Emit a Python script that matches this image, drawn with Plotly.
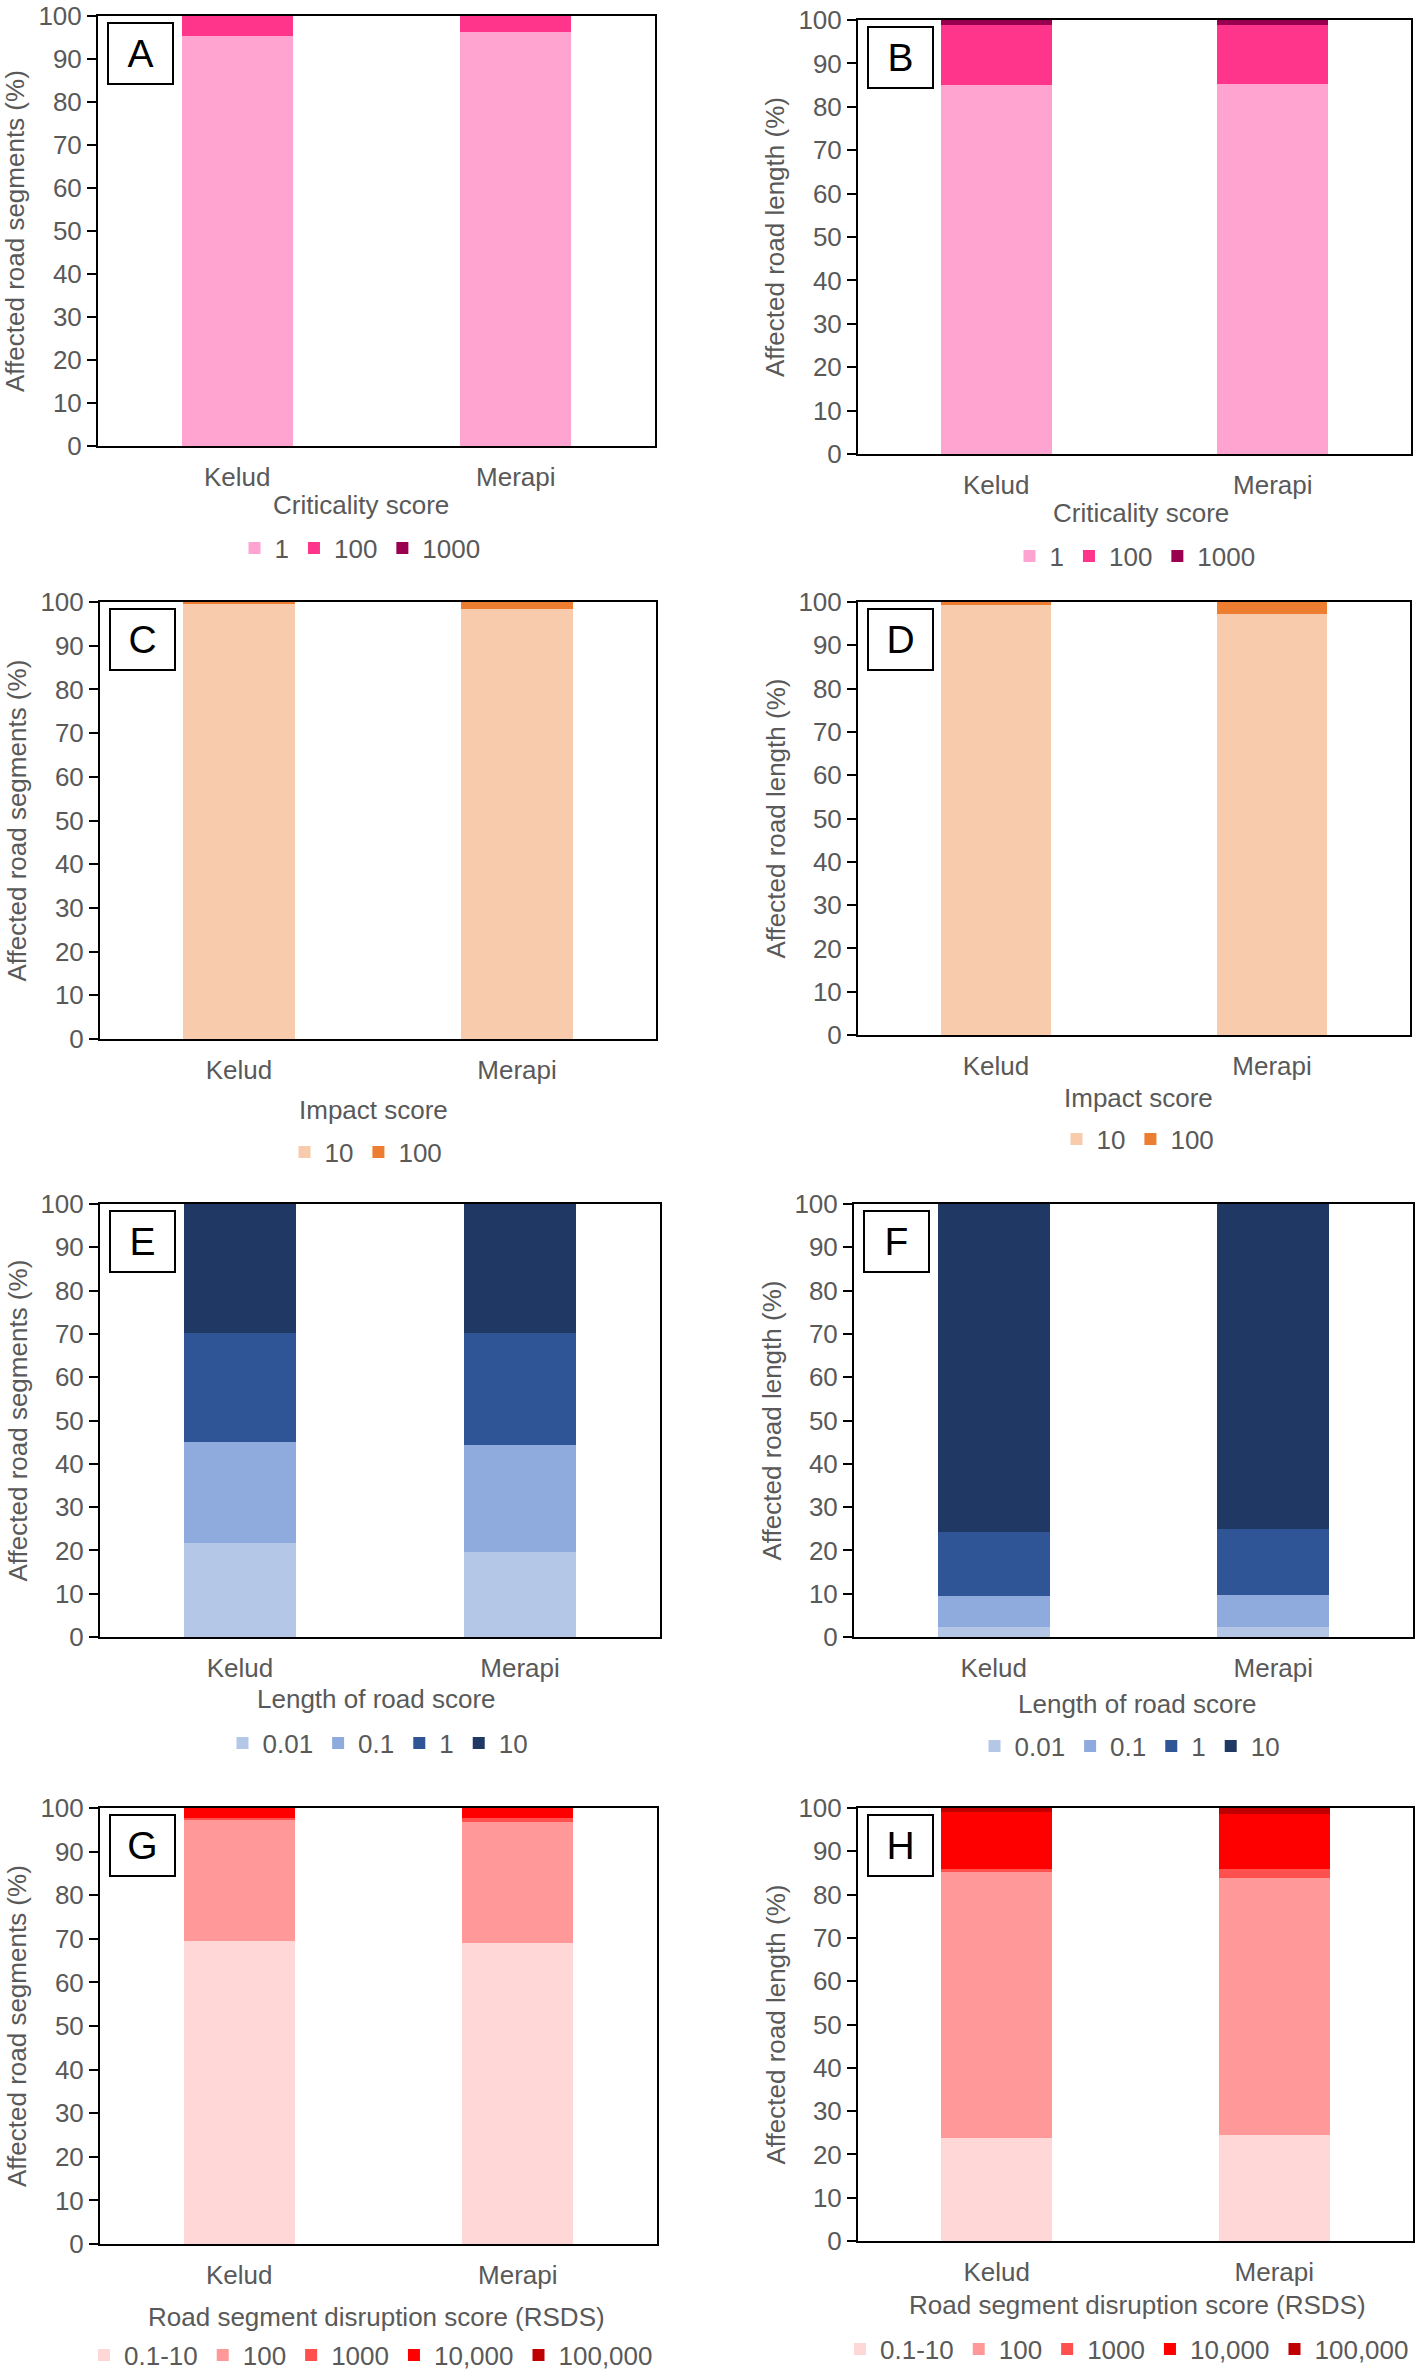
import plotly.graph_objects as go

# ---------------- data ----------------
volcanoes = ["Kelud", "Merapi"]

crit_labels = ["1", "100", "1000"]
crit_colors = ["#FFA3D1", "#FF358C", "#990050"]
A_values = [[95.4, 96.2], [4.6, 3.8], [0.0, 0.0]]      # road segments
B_values = [[85.1, 85.2], [13.8, 13.7], [1.1, 1.1]]    # road length

impact_labels = ["10", "100"]
impact_colors = ["#F8CBAD", "#ED7D31"]
C_values = [[99.7, 98.4], [0.3, 1.6]]
D_values = [[99.4, 97.3], [0.6, 2.7]]

length_labels = ["0.01", "0.1", "1", "10"]
length_colors = ["#B4C7E7", "#8FAADC", "#2F5597", "#203864"]
E_values = [[21.8, 19.6], [23.2, 24.8], [25.2, 25.8], [29.8, 29.8]]
F_values = [[2.4, 2.4], [7.1, 7.4], [14.7, 15.1], [75.8, 75.1]]

rsds_labels = ["0.1-10", "100", "1000", "10,000", "100,000"]
rsds_colors = ["#FFD7D7", "#FF9999", "#FF5050", "#FF0000", "#C00000"]
G_values = [[69.4, 69.1], [28.0, 27.7], [0.3, 0.9], [2.3, 2.3], [0.0, 0.0]]
H_values = [[23.9, 24.4], [61.4, 59.4], [0.5, 2.1], [13.2, 12.7], [1.0, 1.4]]

y_ticks = list(range(0, 101, 10))
ytitle_seg = "Affected road segments (%)"
ytitle_len = "Affected road length (%)"

# ---------------- layout (pixel boxes) ----------------
W, H = 1416, 2372
# letter, labels, colors, values, y title, x title,
# plot box (left, top, right, bottom), x-title centre (x, y), legend (x, y, anchor)
panels = [
    ("A", crit_labels, crit_colors, A_values, ytitle_seg, "Criticality score",
     (98, 16, 655, 446), (361, 505), (360, 548, "center")),
    ("B", crit_labels, crit_colors, B_values, ytitle_len, "Criticality score",
     (858, 20, 1411, 454), (1141, 513), (1135, 556, "center")),
    ("C", impact_labels, impact_colors, C_values, ytitle_seg, "Impact score",
     (100, 602, 656, 1039), (373, 1110), (366, 1152, "center")),
    ("D", impact_labels, impact_colors, D_values, ytitle_len, "Impact score",
     (858, 602, 1410, 1035), (1138, 1098), (1138, 1139, "center")),
    ("E", length_labels, length_colors, E_values, ytitle_seg, "Length of road score",
     (100, 1204, 660, 1637), (377, 1699), (378, 1743, "center")),
    ("F", length_labels, length_colors, F_values, ytitle_len, "Length of road score",
     (854, 1204, 1413, 1637), (1137, 1704), (1130, 1746, "center")),
    ("G", rsds_labels, rsds_colors, G_values, ytitle_seg, "Road segment disruption score (RSDS)",
     (100, 1808, 657, 2244), (376, 2317), (371, 2355, "center")),
    ("H", rsds_labels, rsds_colors, H_values, ytitle_len, "Road segment disruption score (RSDS)",
     (858, 1808, 1413, 2241), (1137, 2305), (1414, 2349, "right")),
]

FONT = "Arial, Liberation Sans, Helvetica, sans-serif"
GREY = "#595959"
FS = 26

fig = go.Figure()
layout = dict(
    width=W, height=H, autosize=False,
    margin=dict(l=0, r=0, t=0, b=0, pad=0, autoexpand=False),
    paper_bgcolor="white", plot_bgcolor="white",
    barmode="stack", bargap=0.6,
    font=dict(family=FONT, size=FS, color=GREY),
    annotations=[],
)

for i, (letter, labels, colors, values, ytitle, xtitle, box, xt, lg) in enumerate(panels):
    n = "" if i == 0 else str(i + 1)
    xa, ya = "x" + n, "y" + n
    leg = "legend" + n
    left, top, right, bottom = box
    for lab, col, vals in zip(labels, colors, values):
        fig.add_trace(go.Bar(
            x=volcanoes, y=vals, name=lab, marker=dict(color=col, line=dict(width=0)),
            xaxis=xa, yaxis=ya, legend=leg,
        ))
    layout["xaxis" + n] = dict(
        domain=[left / W, right / W], anchor=ya, automargin=False,
        showline=True, linecolor="black", linewidth=2, mirror=True,
        ticks="", showgrid=False, zeroline=False,
        tickfont=dict(size=FS, color=GREY), ticklabelstandoff=7,
        ticklabeloverflow="allow", fixedrange=True,
    )
    layout["yaxis" + n] = dict(
        domain=[1 - bottom / H, 1 - top / H], anchor=xa, automargin=False,
        range=[0, 100], tickvals=y_ticks,
        showline=True, linecolor="black", linewidth=2, mirror=True,
        ticks="outside", ticklen=9, tickwidth=2, tickcolor="black",
        showgrid=False, zeroline=False, ticklabeloverflow="allow",
        tickfont=dict(size=FS, color=GREY), fixedrange=True,
    )
    layout[leg] = dict(
        orientation="h", x=lg[0] / W, y=1 - lg[1] / H, xref="paper", yref="paper",
        xanchor=lg[2], yanchor="middle", traceorder="normal",
        font=dict(size=FS, color=GREY), bgcolor="rgba(0,0,0,0)",
    )
    pw, ph = right - left, bottom - top
    # panel letter box
    layout["annotations"].append(dict(
        text=letter, xref=xa + " domain", yref=ya + " domain",
        x=9 / pw, y=1 - 6 / ph, xanchor="left", yanchor="top",
        showarrow=False, width=63, height=59, borderpad=0,
        bordercolor="black", borderwidth=2, bgcolor="white",
        font=dict(size=39, color="black", family=FONT),
    ))
    # y title
    layout["annotations"].append(dict(
        text=ytitle, xref="paper", yref=ya + " domain",
        x=(left - 83) / W, y=0.5, xanchor="center", yanchor="middle",
        textangle=-90, showarrow=False, font=dict(size=FS, color=GREY),
    ))
    # x title
    layout["annotations"].append(dict(
        text=xtitle, xref="paper", yref="paper",
        x=xt[0] / W, y=1 - xt[1] / H, xanchor="center", yanchor="middle",
        showarrow=False, font=dict(size=FS, color=GREY),
    ))

fig.update_layout(**layout)
fig.write_html(
    "out.html",
    config={"displayModeBar": False},
    post_script="document.body.style.margin='0';document.body.style.overflow='hidden';",
)
